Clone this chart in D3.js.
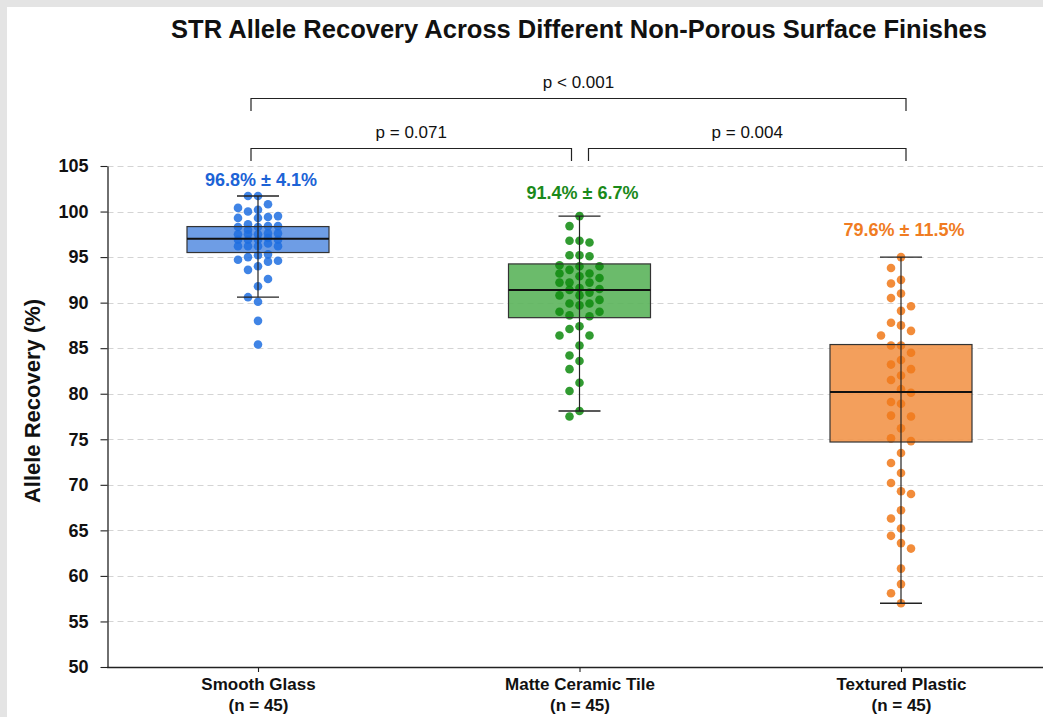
<!DOCTYPE html>
<html>
<head>
<meta charset="utf-8">
<script src="https://cdn.jsdelivr.net/npm/d3@7"></script>
<style>
  html, body { margin: 0; padding: 0; background: #e4e4e4; }
  svg { display: block; font-family: "Liberation Sans", Arial, Helvetica, sans-serif; }
</style>
</head>
<body>
<svg id="chart" width="1043" height="717"></svg>
<script>
// ---- data ----
const categories = ["Smooth Glass", "Matte Ceramic Tile", "Textured Plastic"];
const sampleSizes = [45, 45, 45];
const means = [96.8, 91.4, 79.6];
const sds = [4.1, 6.7, 11.5];

// box summaries: lower whisker, Q1, median, Q3, upper whisker
const whiskerLow = [90.6, 78.1, 57.0];
const q1 = [95.5, 88.35, 74.7];
const medians = [97.0, 91.4, 80.2];
const q3 = [98.35, 94.25, 85.4];
const whiskerHigh = [101.7, 99.5, 95.0];

const glassValues = [101.7, 101.7, 100.8, 100.4, 100.2, 100.0, 99.5, 99.4, 99.3, 99.3,
  98.6, 98.4, 98.4, 98.3, 98.3, 98.0, 97.6, 97.6, 97.5, 97.5,
  97.5, 97.1, 96.9, 96.9, 96.9, 96.9, 96.5, 96.2, 96.2, 96.2,
  96.2, 95.3, 95.2, 95.0, 94.7, 94.6, 94.5, 94.0, 93.6, 92.6,
  91.8, 90.6, 90.1, 88.0, 85.4];
const ceramicValues = [99.5, 98.4, 96.8, 96.8, 96.6, 95.2, 95.1, 95.2, 94.1, 94.0,
  94.0, 93.6, 93.2, 93.2, 92.9, 92.7, 92.2, 92.2, 92.2, 91.6,
  91.4, 91.1, 91.5, 90.8, 90.8, 90.3, 89.9, 89.9, 89.7, 89.0,
  89.0, 88.6, 88.5, 87.4, 87.1, 86.4, 86.4, 85.3, 84.2, 83.6,
  82.7, 81.2, 80.3, 78.1, 77.5];
const plasticValues = [95.0, 93.8, 92.5, 92.1, 91.0, 90.5, 89.6, 89.1, 87.8, 87.5,
  86.9, 86.4, 85.3, 85.3, 84.5, 83.7, 83.2, 82.7, 82.0, 81.5,
  80.5, 80.1, 79.1, 78.9, 77.6, 77.5, 76.2, 75.1, 74.8, 73.5,
  72.4, 71.3, 70.2, 69.3, 69.0, 67.2, 66.3, 65.2, 64.4, 63.6,
  63.0, 60.8, 59.1, 58.1, 57.0];
const groupValues = [glassValues, ceramicValues, plasticValues];

const yTicks = [50, 55, 60, 65, 70, 75, 80, 85, 90, 95, 100, 105];

// pairwise comparisons: [group a, group b, label, level]
const comparisons = [
  [0, 1, "p = 0.071", 0],
  [1, 2, "p = 0.004", 0],
  [0, 2, "p < 0.001", 1]
];

// ---- styling ----
const boxFill = ["#5e92e2", "#5bb45b", "#f2954a"];
const pointFill = ["#1f6fe0", "#0d8a0d", "#f07818"];
const labelColor = ["#1c63d6", "#1a8a1a", "#f07c22"];
const labelGap = [17, 24, 28];
const FONT = "'Liberation Sans', Arial, Helvetica, sans-serif";

const W = 1043, H = 717;
const svg = d3.select("#chart");

// page background and white card
svg.append("rect").attr("width", W).attr("height", H).attr("fill", "#e4e4e4");
svg.append("rect").attr("x", 7).attr("y", 7).attr("width", W + 20).attr("height", H + 20).attr("fill", "#ffffff");

const plotLeft = 107.5, plotBottom = 667, plotTop = 166, plotRight = W + 5;

const y = d3.scaleLinear().domain([50, 105]).range([plotBottom, plotTop]);
const x = d3.scalePoint().domain(categories).range([258, 901]);
const boxW = 142, capW = 42;

// horizontal dashed grid
svg.append("g").selectAll("line")
  .data(yTicks.filter(t => t > 50))
  .join("line")
  .attr("x1", plotLeft).attr("x2", plotRight)
  .attr("y1", d => Math.round(y(d)) + 0.5).attr("y2", d => Math.round(y(d)) + 0.5)
  .attr("stroke", "#d4d4d4").attr("stroke-width", 1).attr("stroke-dasharray", "6,4");

// y axis
const yAxis = svg.append("g")
  .attr("transform", `translate(${plotLeft},0)`)
  .call(d3.axisLeft(y).tickValues(yTicks).tickSize(7).tickSizeOuter(0).tickPadding(12));
yAxis.select(".domain").attr("stroke", "#222").attr("stroke-width", 1.3);
yAxis.selectAll(".tick line").attr("stroke", "#222").attr("stroke-width", 1.1);
yAxis.selectAll(".tick text").attr("font-size", 18).attr("font-weight", "bold").attr("fill", "#111")
  .attr("font-family", FONT);

// x axis
svg.append("line").attr("x1", plotLeft - 0.6).attr("x2", plotRight).attr("y1", plotBottom + 0.5).attr("y2", plotBottom + 0.5)
  .attr("stroke", "#222").attr("stroke-width", 1.4);
const xAxis = svg.append("g")
  .attr("transform", `translate(0,${plotBottom})`)
  .call(d3.axisBottom(x).tickSize(5).tickSizeOuter(0));
xAxis.select(".domain").remove();
xAxis.selectAll(".tick line").attr("stroke", "#222").attr("stroke-width", 1.1);
xAxis.selectAll(".tick text").remove();
xAxis.selectAll(".tick").each(function (d, i) {
  const t = d3.select(this).append("text")
    .attr("text-anchor", "middle").attr("fill", "#111")
    .attr("font-size", 17).attr("font-weight", "bold")
    .attr("font-family", FONT);
  t.append("tspan").attr("x", 0).attr("y", 23).text(d);
  t.append("tspan").attr("x", 0).attr("y", 44).text(`(n = ${sampleSizes[i]})`);
});

// y axis title
svg.append("text")
  .attr("transform", `translate(40,401) rotate(-90)`)
  .attr("text-anchor", "middle")
  .attr("font-size", 22).attr("font-weight", "bold").attr("fill", "#111")
  .text("Allele Recovery (%)");

// chart title
svg.append("text")
  .attr("x", 579).attr("y", 38)
  .attr("text-anchor", "middle")
  .attr("font-size", 25.5).attr("font-weight", "bold").attr("fill", "#111")
  .text("STR Allele Recovery Across Different Non-Porous Surface Finishes");

// column-dodged strip layout for the individual points
function dodge(vals, step, gap) {
  const order = [0, -1, 1, -2, 2];
  const lastY = {};
  return vals.map(v => ({ v, py: y(v) }))
    .sort((a, b) => b.v - a.v)
    .map(p => {
      const dist = c => lastY[c] === undefined ? Infinity : p.py - lastY[c];
      let col = order.find(c => dist(c) >= gap);
      if (col === undefined) col = order.reduce((best, c) => dist(c) > dist(best) ? c : best, order[0]);
      lastY[col] = p.py;
      p.dx = col * step;
      return p;
    });
}

const groups = svg.append("g").selectAll("g")
  .data(categories)
  .join("g")
  .attr("transform", d => `translate(${x(d)},0)`);

// box fill
groups.append("rect")
  .attr("x", -boxW / 2).attr("width", boxW)
  .attr("y", (d, i) => y(q3[i])).attr("height", (d, i) => y(q1[i]) - y(q3[i]))
  .attr("fill", (d, i) => boxFill[i]).attr("fill-opacity", 0.9);

// points
groups.each(function (d, i) {
  d3.select(this).append("g").selectAll("circle")
    .data(dodge(groupValues[i], 10, 13))
    .join("circle")
    .attr("cx", p => p.dx).attr("cy", p => p.py).attr("r", 4.3)
    .attr("fill", pointFill[i]).attr("fill-opacity", 0.85);
});

// box outline, whiskers, caps, median
groups.append("rect")
  .attr("x", -boxW / 2).attr("width", boxW)
  .attr("y", (d, i) => y(q3[i])).attr("height", (d, i) => y(q1[i]) - y(q3[i]))
  .attr("fill", "none").attr("stroke", "#333").attr("stroke-width", 1.2);
groups.append("line")
  .attr("x1", 0).attr("x2", 0)
  .attr("y1", (d, i) => y(whiskerLow[i])).attr("y2", (d, i) => y(whiskerHigh[i]))
  .attr("stroke", "#222").attr("stroke-width", 1.2);
[whiskerLow, whiskerHigh].forEach(arr => {
  groups.append("line")
    .attr("x1", -capW / 2).attr("x2", capW / 2)
    .attr("y1", (d, i) => y(arr[i])).attr("y2", (d, i) => y(arr[i]))
    .attr("stroke", "#222").attr("stroke-width", 1.4);
});
groups.append("line")
  .attr("x1", -boxW / 2).attr("x2", boxW / 2)
  .attr("y1", (d, i) => y(medians[i])).attr("y2", (d, i) => y(medians[i]))
  .attr("stroke", "#111").attr("stroke-width", 2);

// mean ± SD labels
groups.append("text")
  .attr("x", 3)
  .attr("y", (d, i) => y(whiskerHigh[i]) - labelGap[i] + 7)
  .attr("text-anchor", "middle")
  .attr("font-size", 18).attr("font-weight", "bold")
  .attr("fill", (d, i) => labelColor[i])
  .text((d, i) => `${means[i].toFixed(1)}% ± ${sds[i].toFixed(1)}%`);

// significance brackets
const levelY = [148, 98];
const bracket = svg.append("g");
comparisons.forEach(([a, b, label, level]) => {
  const xa = x(categories[a]) + (a === 1 ? 9 : -7);
  const xb = x(categories[b]) + (b === 1 ? -8 : 5);
  const yl = levelY[level] + 0.5;
  bracket.append("path")
    .attr("d", `M${xa},${yl + 12.5}V${yl}H${xb}V${yl + 12.5}`)
    .attr("fill", "none").attr("stroke", "#222").attr("stroke-width", 1.2);
  bracket.append("text")
    .attr("x", (xa + xb) / 2).attr("y", yl - 11)
    .attr("text-anchor", "middle").attr("font-size", 17).attr("fill", "#111")
    .text(label);
});
</script>
</body>
</html>
